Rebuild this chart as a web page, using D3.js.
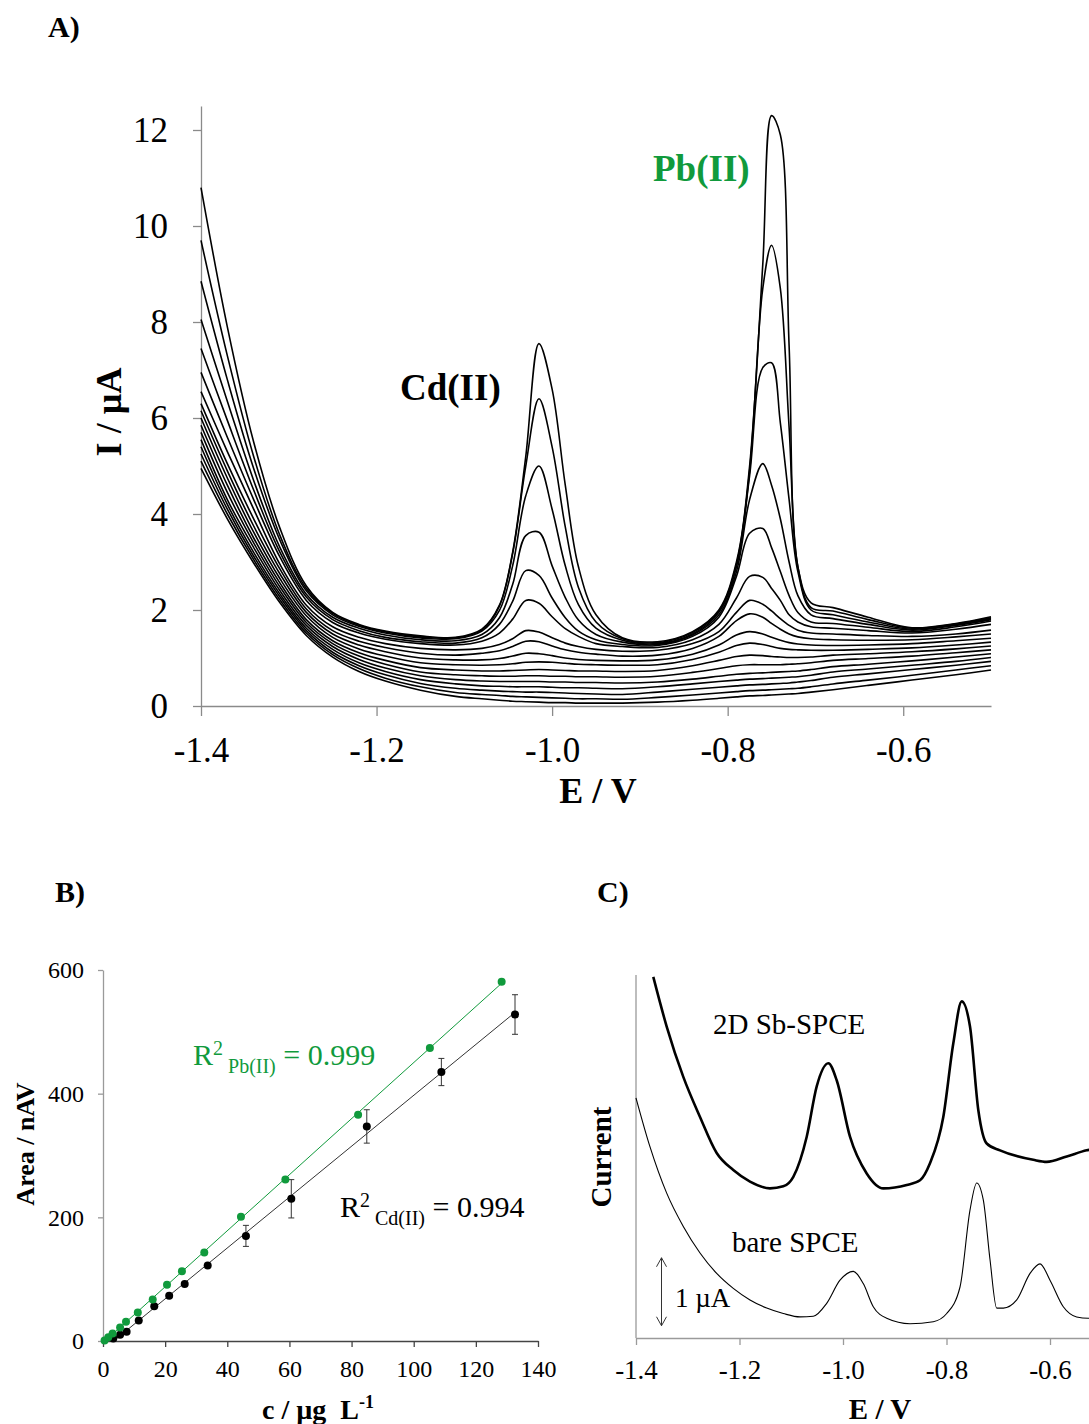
<!DOCTYPE html>
<html><head><meta charset="utf-8">
<script src="https://cdn.jsdelivr.net/npm/d3@7"></script>
<style>
body{margin:0;background:#fff}
svg text{font-family:"Liberation Serif","Times New Roman",serif}
</style>
</head><body>
<svg id="fig" width="1089" height="1424"></svg>
<script>
// ---------------- Panel A data (stripping voltammograms) ----------------
const potentialsA = [-1.40,-1.37,-1.34,-1.31,-1.28,-1.25,-1.22,-1.19,-1.15,-1.11,
  -1.08,-1.06,-1.045,-1.03,-1.015,-1.00,-0.985,-0.97,-0.95,-0.92,
  -0.88,-0.84,-0.81,-0.79,-0.775,-0.76,-0.75,-0.74,-0.73,-0.72,-0.705,-0.68,
  -0.64,-0.59,-0.54,-0.50];
const curveT1  = [10.8,7.9,5.5,3.7,2.5,1.95,1.7,1.56,1.46,1.43, 1.6,2.1,3.2,5.2,7.55,6.6,4.6,2.9,1.9,1.42, 1.34,1.55,2.0,3.0,5.0,9.2,12.3,11.9,7.5,2.9,2.15,2.05, 1.85,1.63,1.72,1.86];
const curveT2  = [9.7,7.3,5.2,3.55,2.45,1.93,1.68,1.54,1.44,1.42, 1.58,2.08,3.17,5.0,6.4,5.4,3.73,2.47,1.75,1.4, 1.32,1.53,1.98,2.95,4.9,8.7,9.6,8.7,5.8,2.9,2.05,1.98, 1.8,1.62,1.71,1.84];
const curveT3  = [8.85,6.8,4.95,3.45,2.4,1.9,1.66,1.52,1.42,1.4, 1.56,1.99,2.92,4.38,5.0,4.1,2.92,2.11,1.62,1.37, 1.3,1.5,1.95,2.9,4.8,7.05,7.15,5.9,4.3,2.8,2.0,1.9, 1.75,1.6,1.7,1.82];
const curveT4  = [8.05,6.35,4.7,3.3,2.33,1.85,1.62,1.48,1.38,1.36, 1.49,1.84,2.53,3.55,3.62,2.92,2.26,1.79,1.49,1.33, 1.28,1.48,1.9,2.8,4.3,5.05,4.6,3.9,3.0,2.3,1.9,1.82, 1.7,1.58,1.68,1.8];
const curveT5  = [7.45,5.95,4.5,3.2,2.27,1.8,1.57,1.43,1.34,1.31, 1.42,1.70,2.18,2.82,2.72,2.25,1.84,1.56,1.38,1.28, 1.26,1.45,1.85,2.7,3.6,3.7,3.3,2.8,2.3,1.95,1.75,1.72, 1.64,1.55,1.65,1.77];
const curveT6  = [6.95,5.6,4.3,3.1,2.2,1.74,1.52,1.39,1.3,1.27, 1.35,1.52,1.81,2.2,2.14,1.86,1.61,1.45,1.3,1.24, 1.22,1.38,1.7,2.25,2.7,2.68,2.45,2.2,1.9,1.75,1.65,1.62, 1.57,1.52,1.6,1.7];
const curveT7  = [6.55,5.3,4.1,2.95,2.1,1.65,1.43,1.3,1.2,1.17, 1.2,1.28,1.4,1.57,1.54,1.42,1.31,1.24,1.18,1.14, 1.16,1.3,1.55,1.95,2.2,2.12,1.98,1.82,1.68,1.58,1.52,1.5, 1.47,1.45,1.5,1.58];
const curveT8  = [6.3,5.05,3.9,2.85,2.02,1.57,1.35,1.22,1.1,1.06, 1.1,1.15,1.24,1.35,1.34,1.25,1.17,1.12,1.08,1.04, 1.06,1.2,1.45,1.78,1.92,1.85,1.72,1.6,1.5,1.44,1.4,1.38, 1.37,1.38,1.44,1.5];
const curveT9  = [6.15,4.9,3.75,2.75,1.95,1.5,1.27,1.13,1.0,0.96, 0.96,0.99,1.04,1.1,1.09,1.05,1.0,0.97,0.95,0.94, 0.96,1.08,1.27,1.48,1.55,1.5,1.43,1.37,1.32,1.29,1.27,1.26, 1.27,1.3,1.36,1.41];
const curveT10 = [6.0,4.75,3.62,2.65,1.88,1.43,1.19,1.04,0.9,0.86, 0.85,0.86,0.88,0.91,0.92,0.91,0.89,0.87,0.86,0.85, 0.86,0.97,1.12,1.26,1.31,1.28,1.24,1.2,1.18,1.17,1.16,1.16, 1.18,1.21,1.27,1.33];
const curveT11 = [5.85,4.6,3.5,2.56,1.8,1.36,1.11,0.95,0.8,0.75, 0.73,0.73,0.74,0.75,0.76,0.75,0.74,0.73,0.73,0.72, 0.74,0.84,0.95,1.03,1.06,1.05,1.03,1.02,1.01,1.01,1.02,1.06, 1.09,1.13,1.19,1.25];
const curveT12 = [5.7,4.45,3.4,2.48,1.74,1.3,1.04,0.87,0.71,0.65, 0.63,0.62,0.62,0.63,0.63,0.62,0.62,0.61,0.61,0.6, 0.62,0.7,0.78,0.84,0.86,0.86,0.86,0.86,0.87,0.88,0.9,0.95, 0.99,1.04,1.11,1.17];
const curveT13 = [5.55,4.3,3.3,2.4,1.68,1.24,0.97,0.79,0.63,0.55, 0.52,0.51,0.51,0.51,0.51,0.5,0.5,0.49,0.49,0.48, 0.5,0.56,0.62,0.66,0.68,0.69,0.7,0.71,0.72,0.73,0.76,0.82, 0.87,0.94,1.02,1.09];
const curveT14 = [5.4,4.2,3.2,2.33,1.62,1.18,0.9,0.72,0.55,0.46, 0.42,0.41,0.4,0.4,0.4,0.39,0.38,0.38,0.37,0.36, 0.4,0.46,0.51,0.54,0.56,0.57,0.58,0.59,0.6,0.61,0.64,0.71, 0.77,0.85,0.93,1.01];
const curveT15 = [5.25,4.1,3.12,2.27,1.57,1.12,0.84,0.65,0.47,0.37, 0.33,0.31,0.3,0.29,0.29,0.28,0.27,0.26,0.25,0.24, 0.29,0.35,0.39,0.42,0.44,0.45,0.46,0.47,0.48,0.5,0.53,0.6, 0.67,0.76,0.85,0.93];
const curveT16 = [5.1,4.0,3.05,2.21,1.52,1.07,0.78,0.58,0.4,0.28, 0.24,0.22,0.2,0.19,0.18,0.17,0.16,0.15,0.15,0.14, 0.18,0.23,0.27,0.3,0.32,0.33,0.34,0.35,0.36,0.37,0.4,0.46, 0.54,0.64,0.75,0.84];
const curveT17 = [4.95,3.9,2.98,2.15,1.47,1.02,0.72,0.52,0.33,0.2, 0.15,0.12,0.1,0.09,0.08,0.07,0.07,0.06,0.06,0.06, 0.08,0.12,0.16,0.19,0.21,0.22,0.23,0.24,0.25,0.26,0.29,0.34, 0.43,0.54,0.65,0.75];
const currentsA = [curveT1,curveT2,curveT3,curveT4,curveT5,curveT6,curveT7,curveT8,curveT9,
  curveT10,curveT11,curveT12,curveT13,curveT14,curveT15,curveT16,curveT17];
const xTicksA = [-1.4,-1.2,-1.0,-0.8,-0.6];
const xTickLabelsA = ["-1.4","-1.2","-1.0","-0.8","-0.6"];
const yTicksA = [0,2,4,6,8,10,12];

// ---------------- Panel B data (calibration) ----------------
const concPb = [0.5,1.7,3.1,5.5,7.4,11.2,16.0,20.6,25.4,32.6,44.4,58.7,82.1,105.2,128.3];
const areaPb = [1,6,12,22,31,46,67,91,113,143,201,261,366,474,581];
const concCd = [3.3,5.5,7.6,11.5,16.5,21.3,26.3,33.7,46.0,60.6,84.9,108.9,132.6];
const areaCd = [4,10,15,33,56,73,92,122,170,230,347,435,528];
const errCd  = [1,1,2,2,2,3,3,3,17,31,27,22,32];
const xTicksB = [0,20,40,60,80,100,120,140];
const yTicksB = [0,200,400,600];

// ---------------- Panel C data (comparison) ----------------
const potentialsSb = [-1.3666,-1.3407,-1.3086,-1.2763,-1.2441,-1.212,-1.1797,-1.1411,-1.1154,-1.096,-1.0701,-1.0508,-1.0284,-1.0122,-0.9865,-0.9542,-0.9221,-0.8769,-0.8512,-0.8319,-0.8062,-0.7869,-0.7706,-0.7546,-0.7385,-0.7223,-0.6966,-0.6323,-0.6064,-0.5677,-0.5291,-0.5];
const currentSb    = [5.31,4.58,3.84,3.25,2.72,2.47,2.30,2.20,2.23,2.37,2.96,3.70,4.04,3.79,2.96,2.42,2.20,2.25,2.32,2.57,3.25,4.33,4.95,4.58,3.35,2.86,2.76,2.62,2.59,2.67,2.76,2.80];
const potentialsBare = [-1.4,-1.3729,-1.3407,-1.3086,-1.2763,-1.2441,-1.212,-1.1797,-1.1474,-1.1154,-1.0831,-1.0574,-1.0315,-1.0058,-0.9801,-0.9608,-0.9415,-0.9156,-0.8705,-0.8255,-0.7996,-0.7739,-0.7546,-0.7416,-0.7289,-0.7159,-0.703,-0.6902,-0.6643,-0.6386,-0.6193,-0.6,-0.5743,-0.5485,-0.5261,-0.5];
const currentBare    = [3.53,2.81,2.13,1.64,1.25,0.95,0.73,0.56,0.44,0.36,0.31,0.32,0.51,0.85,0.98,0.80,0.46,0.29,0.21,0.24,0.36,0.75,1.88,2.28,2.03,1.15,0.44,0.44,0.56,0.95,1.09,0.85,0.46,0.31,0.29,0.29];
const xTicksC = [-1.4,-1.2,-1.0,-0.8,-0.6];
const xTickLabelsC = ["-1.4","-1.2","-1.0","-0.8","-0.6"];
const scaleBarBase = 0.18, scaleBarSize = 1;

// ---------------- drawing ----------------
const svg = d3.select("#fig");
const GREEN = "#109a3c";
const AXIS_GRAY = "#8a8a8a";

function styleAxis(g, color, fontSize){
  g.select(".domain").attr("stroke", color).attr("stroke-width", 1.3);
  g.selectAll(".tick line").attr("stroke", color).attr("stroke-width", 1.3);
  g.selectAll(".tick text").attr("fill", "#000").attr("font-size", fontSize)
    .attr("font-family", '"Liberation Serif","Times New Roman",serif');
}

// ===== Panel A =====
const xA = d3.scaleLinear().domain([-1.4,-0.5]).range([201,991]);
const yA = d3.scaleLinear().domain([0,12.5]).range([706,106]);
const gA = svg.append("g");
gA.append("g").attr("transform","translate(0,706)")
  .call(d3.axisBottom(xA).tickValues(xTicksA).tickFormat((d,i)=>xTickLabelsA[i]).tickSize(10).tickSizeOuter(0).tickPadding(21))
  .call(g=>styleAxis(g, AXIS_GRAY, 35));
gA.append("g").attr("transform","translate(201,0)")
  .call(d3.axisLeft(yA).tickValues(yTicksA).tickSize(8).tickSizeOuter(0).tickPadding(25))
  .call(g=>styleAxis(g, AXIS_GRAY, 35));
const lineA = d3.line().x((d,i)=>xA(potentialsA[i])).y(d=>yA(d)).curve(d3.curveCatmullRom.alpha(0.5));
gA.append("g").selectAll("path").data(currentsA).join("path")
  .attr("d", lineA).attr("fill","none").attr("stroke","#000").attr("stroke-width",1.6)
  .attr("stroke-linejoin","round");
gA.append("text").attr("x",48).attr("y",37).attr("font-size",30).attr("font-weight","bold").text("A)");
gA.append("text").attr("x",400).attr("y",400).attr("font-size",37).attr("font-weight","bold").text("Cd(II)");
gA.append("text").attr("x",653).attr("y",181).attr("font-size",37).attr("font-weight","bold").attr("fill",GREEN).text("Pb(II)");
gA.append("text").attr("transform","translate(121,412) rotate(-90)").attr("text-anchor","middle")
  .attr("font-size",36).attr("font-weight","bold").text("I / µA");
gA.append("text").attr("x",598).attr("y",803).attr("text-anchor","middle")
  .attr("font-size",36).attr("font-weight","bold").text("E / V");

// ===== Panel B =====
const xB = d3.scaleLinear().domain([0,140]).range([103,538]);
const yB = d3.scaleLinear().domain([0,600]).range([1341,970]);
const gB = svg.append("g");
gB.append("g").attr("transform","translate(103,0)")
  .call(d3.axisLeft(yB).tickValues(yTicksB).tickSize(5).tickSizeOuter(0).tickPadding(14))
  .call(g=>styleAxis(g, "#9a9a9a", 24));
gB.append("g").attr("transform","translate(0,1341)")
  .call(d3.axisBottom(xB).tickValues(xTicksB).tickSize(6).tickSizeOuter(0).tickPadding(13))
  .call(g=>styleAxis(g, "#444", 24));

function fit(xs, ys){
  const n = xs.length, mx = d3.mean(xs), my = d3.mean(ys);
  let sxy=0, sxx=0;
  for(let i=0;i<n;i++){ sxy += (xs[i]-mx)*(ys[i]-my); sxx += (xs[i]-mx)**2; }
  const b = sxy/sxx; return {b, a: my - b*mx};
}
const fPb = fit(concPb, areaPb), fCd = fit(concCd, areaCd);
const x0Pb = Math.max(0, -fPb.a/fPb.b), x0Cd = Math.max(0, -fCd.a/fCd.b);
gB.append("line").attr("x1",xB(x0Cd)).attr("y1",yB(fCd.a+fCd.b*x0Cd))
  .attr("x2",xB(d3.max(concCd))).attr("y2",yB(fCd.a+fCd.b*d3.max(concCd)))
  .attr("stroke","#333").attr("stroke-width",1);
gB.append("line").attr("x1",xB(x0Pb)).attr("y1",yB(fPb.a+fPb.b*x0Pb))
  .attr("x2",xB(d3.max(concPb))).attr("y2",yB(fPb.a+fPb.b*d3.max(concPb)))
  .attr("stroke",GREEN).attr("stroke-width",1);
// error bars
const eb = gB.append("g").attr("stroke","#333").attr("stroke-width",1);
concCd.forEach((c,i)=>{
  if(errCd[i] < 4) return;
  const x = xB(c), y1 = yB(areaCd[i]-errCd[i]), y2 = yB(areaCd[i]+errCd[i]);
  eb.append("line").attr("x1",x).attr("x2",x).attr("y1",y1).attr("y2",y2);
  eb.append("line").attr("x1",x-3).attr("x2",x+3).attr("y1",y1).attr("y2",y1);
  eb.append("line").attr("x1",x-3).attr("x2",x+3).attr("y1",y2).attr("y2",y2);
});
gB.append("g").selectAll("circle").data(concCd).join("circle")
  .attr("cx",d=>xB(d)).attr("cy",(d,i)=>yB(areaCd[i])).attr("r",4).attr("fill","#000");
gB.append("g").selectAll("circle").data(concPb).join("circle")
  .attr("cx",d=>xB(d)).attr("cy",(d,i)=>yB(areaPb[i])).attr("r",4).attr("fill",GREEN);

function r2Label(g, x, y, sub, val, color){
  const t = g.append("text").attr("x",x).attr("y",y).attr("font-size",30).attr("fill",color);
  t.append("tspan").text("R");
  t.append("tspan").attr("dy",-10).attr("font-size",20).text("2");
  t.append("tspan").attr("dy",18).attr("font-size",20).text("\u00a0" + sub);
  t.append("tspan").attr("dy",-8).text("\u00a0= " + val);
}
r2Label(gB, 193, 1065, "Pb(II)", "0.999", GREEN);
r2Label(gB, 340, 1217, "Cd(II)", "0.994", "#000");
gB.append("text").attr("x",55).attr("y",902).attr("font-size",30).attr("font-weight","bold").text("B)");
gB.append("text").attr("transform","translate(34,1144) rotate(-90)").attr("text-anchor","middle")
  .attr("font-size",26).attr("font-weight","bold").text("Area / nAV");
const xt = gB.append("text").attr("x",318).attr("y",1419).attr("text-anchor","middle")
  .attr("font-size",28).attr("font-weight","bold");
xt.append("tspan").text("c / µg\u00a0\u00a0L");
xt.append("tspan").attr("dy",-11).attr("font-size",18).text("-1");

// ===== Panel C =====
const xC = d3.scaleLinear().domain([-1.4,-0.5]).range([636,1101.75]);
const yC = d3.scaleLinear().domain([0,363/68]).range([1338,975]);
const gC = svg.append("g");
gC.append("line").attr("x1",636).attr("x2",636).attr("y1",975).attr("y2",1338)
  .attr("stroke","#9a9a9a").attr("stroke-width",1.3);
gC.append("g").attr("transform","translate(0,1338)")
  .call(d3.axisBottom(xC).tickValues(xTicksC).tickFormat((d,i)=>xTickLabelsC[i]).tickSize(7).tickSizeOuter(0).tickPadding(15))
  .call(g=>styleAxis(g, "#9a9a9a", 27));
const lineSb = d3.line().x((d,i)=>xC(potentialsSb[i])).y(d=>yC(d)).curve(d3.curveMonotoneX);
const lineBare = d3.line().x((d,i)=>xC(potentialsBare[i])).y(d=>yC(d)).curve(d3.curveMonotoneX);
gC.append("path").attr("d", lineSb(currentSb)).attr("fill","none").attr("stroke","#000").attr("stroke-width",2.6);
gC.append("path").attr("d", lineBare(currentBare)).attr("fill","none").attr("stroke","#000").attr("stroke-width",1.1);
// scale bar
const sbX = 661.5, sbY1 = yC(scaleBarBase), sbY2 = yC(scaleBarBase+scaleBarSize);
const sb = gC.append("g").attr("stroke","#333").attr("stroke-width",1).attr("fill","none");
sb.append("line").attr("x1",sbX).attr("x2",sbX).attr("y1",sbY1).attr("y2",sbY2);
sb.append("path").attr("d",`M${sbX-5},${sbY2+9} L${sbX},${sbY2} L${sbX+5},${sbY2+9}`);
sb.append("path").attr("d",`M${sbX-5},${sbY1-9} L${sbX},${sbY1} L${sbX+5},${sbY1-9}`);
gC.append("text").attr("x",675).attr("y",1307).attr("font-size",27).text("1 µA");
gC.append("text").attr("x",713).attr("y",1034).attr("font-size",29).text("2D Sb-SPCE");
gC.append("text").attr("x",732).attr("y",1252).attr("font-size",29).text("bare SPCE");
gC.append("text").attr("x",597).attr("y",902).attr("font-size",30).attr("font-weight","bold").text("C)");
gC.append("text").attr("transform","translate(611,1157) rotate(-90)").attr("text-anchor","middle")
  .attr("font-size",29).attr("font-weight","bold").text("Current");
gC.append("text").attr("x",880).attr("y",1419).attr("text-anchor","middle")
  .attr("font-size",29).attr("font-weight","bold").text("E / V");
</script>
</body></html>
